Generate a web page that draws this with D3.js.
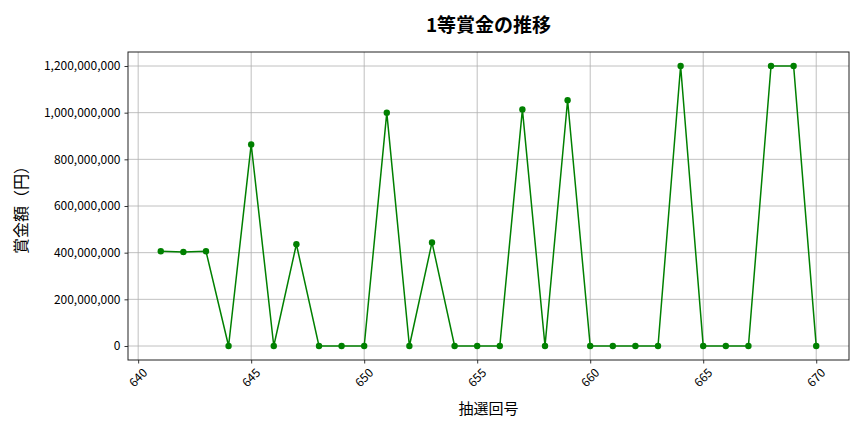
<!DOCTYPE html>
<html>
<head>
<meta charset="utf-8">
<script src="https://cdn.jsdelivr.net/npm/d3@7"></script>
<style>
  body { margin: 0; background: #fff; }
  text { font-family: "Noto Sans CJK JP", "Noto Sans", sans-serif; }
</style>
</head>
<body>
<div id="chart"></div>
<script>
// data
const rounds = [641, 642, 643, 644, 645, 646, 647, 648, 649, 650,
                651, 652, 653, 654, 655, 656, 657, 658, 659, 660,
                661, 662, 663, 664, 665, 666, 667, 668, 669, 670];
const prizes = [406000000, 403000000, 406000000, 0, 864000000, 0, 436000000, 0, 0, 0,
                1000000000, 0, 444000000, 0, 0, 0, 1014000000, 0, 1053000000, 0,
                0, 0, 0, 1200000000, 0, 0, 0, 1200000000, 1200000000, 0];
const xTicks = [640, 645, 650, 655, 660, 665, 670];
const yTicks = [0, 200000000, 400000000, 600000000, 800000000, 1000000000, 1200000000];

const W = 864, H = 432;
const margin = {top: 52, right: 15, bottom: 72, left: 128};
const width = W - margin.left - margin.right,
      height = H - margin.top - margin.bottom;

const svg = d3.select("#chart").append("svg")
    .attr("width", W).attr("height", H);

// matplotlib style 5% margins
const xMin = d3.min(rounds), xMax = d3.max(rounds);
const xPad = (xMax - xMin) * 0.05;
const yMax = d3.max(prizes), yPad = yMax * 0.05;

const x = d3.scaleLinear().domain([xMin - xPad, xMax + xPad]).range([0, width]);
const y = d3.scaleLinear().domain([-yPad, yMax + yPad]).range([height, 0]);

const g = svg.append("g").attr("transform", "translate(" + margin.left + "," + margin.top + ")");

// grid
g.append("g").selectAll("line").data(xTicks).enter().append("line")
    .attr("x1", d => x(d)).attr("x2", d => x(d))
    .attr("y1", 0).attr("y2", height)
    .attr("stroke", "#b0b0b0").attr("stroke-width", 0.8);
g.append("g").selectAll("line").data(yTicks).enter().append("line")
    .attr("x1", 0).attr("x2", width)
    .attr("y1", d => y(d)).attr("y2", d => y(d))
    .attr("stroke", "#b0b0b0").attr("stroke-width", 0.8);

// axes
const xAxis = g.append("g").attr("transform", "translate(0," + height + ")")
    .call(d3.axisBottom(x).tickValues(xTicks).tickSize(3.5).tickSizeOuter(0).tickFormat(d3.format("d")));
xAxis.selectAll("text")
    .attr("font-size", 12).attr("fill", "#000")
    .attr("text-anchor", "end")
    .attr("dx", 0).attr("dy", 0)
    .attr("transform", "translate(5,9) rotate(-45)");

const yAxis = g.append("g")
    .call(d3.axisLeft(y).tickValues(yTicks).tickSize(3.5).tickSizeOuter(0).tickFormat(d3.format(",")));
yAxis.selectAll("text").attr("font-size", 12).attr("fill", "#000").attr("dx", "-1");

[xAxis, yAxis].forEach(a => {
  a.select(".domain").remove();
  a.selectAll(".tick line").attr("stroke", "#000").attr("stroke-width", 0.8);
});

// frame
g.append("rect").attr("width", width).attr("height", height)
    .attr("fill", "none").attr("stroke", "#222").attr("stroke-width", 1);

// line + markers
const pts = rounds.map((r, i) => [r, prizes[i]]);
g.append("path").datum(pts)
    .attr("fill", "none").attr("stroke", "green").attr("stroke-width", 1.5)
    .attr("d", d3.line().x(d => x(d[0])).y(d => y(d[1])));
g.append("g").selectAll("circle").data(pts).enter().append("circle")
    .attr("cx", d => x(d[0])).attr("cy", d => y(d[1])).attr("r", 3.2)
    .attr("fill", "green");

// labels
svg.append("text").attr("x", margin.left + width / 2).attr("y", 32)
    .attr("text-anchor", "middle").attr("font-size", 19).attr("font-weight", "bold")
    .text("1等賞金の推移");
svg.append("text").attr("x", margin.left + width / 2).attr("y", 414)
    .attr("text-anchor", "middle").attr("font-size", 15)
    .text("抽選回号");
svg.append("text").attr("transform", "translate(27," + (margin.top + height / 2) + ") rotate(-90)")
    .attr("text-anchor", "middle").attr("font-size", 16)
    .text("賞金額（円）");
</script>
</body>
</html>
